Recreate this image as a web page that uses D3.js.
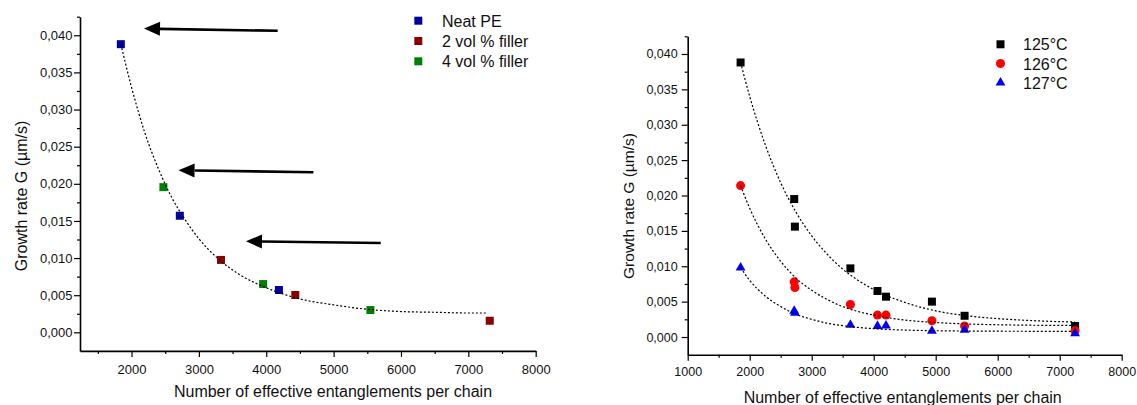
<!DOCTYPE html>
<html><head><meta charset="utf-8">
<script src="https://cdn.jsdelivr.net/npm/d3@7"></script>
<style>
body{margin:0;background:#fff;}
text{font-family:"Liberation Sans",Arial,sans-serif;fill:#111;}
</style></head>
<body><svg id="c" width="1137" height="405"></svg>
<script>
// ---- Left panel data ----
const leftNeatX = [1841, 2717, 4188];
const leftNeatY = [0.0388, 0.0157, 0.0057];
const left2X = [3328, 4431, 7318];
const left2Y = [0.00975, 0.00503, 0.00156];
const left4X = [2473, 3954, 5546];
const left4Y = [0.01955, 0.0065, 0.0030];
const leftFitX = [1841, 2000, 2200, 2400, 2600, 2800, 3000, 3300, 3600, 4000, 4500, 5000, 5500, 6000, 6500, 7000, 7280];
const leftFitY = [0.0388, 0.0330, 0.0268, 0.0220, 0.0181, 0.0151, 0.0126, 0.0098, 0.0078, 0.0060, 0.0045, 0.0037, 0.0031, 0.0028, 0.0027, 0.0026, 0.0026];
const leftLegend = ["Neat PE", "2 vol % filler", "4 vol % filler"];
const arrowTipX = [2185, 2698, 3699];
const arrowTipY = [0.0409, 0.02183, 0.01226];
const arrowTailX = [4170, 4700, 5699];
const arrowTailY = [0.0406, 0.02156, 0.01203];

// ---- Right panel data ----
const rightX = [1853, 2718, 2729, 3624, 4061, 4198, 4939, 5466, 7248];
const r125Y = [0.0388, 0.0195, 0.0156, 0.0097, 0.0065, 0.0057, 0.0050, 0.0030, 0.00155];
const r126Y = [0.0214, 0.0078, 0.0070, 0.0046, 0.0031, 0.0031, 0.0023, 0.00155, 0.00088];
const r127Y = [0.0098, 0.0037, 0.0034, 0.0017, 0.00155, 0.0016, 0.00085, 0.00099, 0.00052];
const rightFitX = [1853, 2000, 2250, 2500, 2750, 3000, 3250, 3500, 3750, 4000, 4500, 5000, 5500, 6000, 6500, 7000, 7248];
const fit125Y = [0.0388, 0.0340, 0.0272, 0.0218, 0.0176, 0.0143, 0.0117, 0.0096, 0.0080, 0.0067, 0.0049, 0.0037, 0.0030, 0.0026, 0.00234, 0.00217, 0.00212];
const fit126Y = [0.0214, 0.0182, 0.0139, 0.0107, 0.0083, 0.0066, 0.0053, 0.0043, 0.0036, 0.0031, 0.0024, 0.00205, 0.00184, 0.00173, 0.00167, 0.00164, 0.00163];
const fit127Y = [0.0098, 0.0080, 0.0058, 0.0043, 0.0032, 0.0025, 0.00195, 0.0016, 0.00135, 0.00118, 0.00098, 0.00089, 0.00084, 0.00082, 0.00081, 0.0008, 0.0008];
const rightLegend = ["125°C", "126°C", "127°C"];

// ---- Ticks ----
const yMajor = [0, 0.005, 0.010, 0.015, 0.020, 0.025, 0.030, 0.035, 0.040];
const yMinor = [0.0025, 0.0075, 0.0125, 0.0175, 0.0225, 0.0275, 0.0325, 0.0375, 0.0425];
const leftXMajor = [2000, 3000, 4000, 5000, 6000, 7000, 8000];
const leftXMinor = [1500, 2500, 3500, 4500, 5500, 6500, 7500];
const rightXMajor = [1000, 2000, 3000, 4000, 5000, 6000, 7000, 8000];
const rightXMinor = [1500, 2500, 3500, 4500, 5500, 6500, 7500];

const svg = d3.select("#c");
const fmt = d3.formatLocale({decimal: ",", thousands: ".", grouping: [3], currency: ["", ""]}).format(".3f");

function drawAxes(g, x, y, xMaj, xMin, yPad, xPad, fs) {
  const ax = g.append("g").attr("transform", `translate(0,${y.range()[0]})`)
    .call(d3.axisBottom(x).tickValues(xMaj).tickSize(6).tickSizeOuter(0).tickPadding(xPad).tickFormat(d3.format("d")));
  g.append("g").attr("transform", `translate(0,${y.range()[0]})`)
    .call(d3.axisBottom(x).tickValues(xMin).tickSize(3).tickSizeOuter(0).tickFormat(""))
    .select(".domain").remove();
  const ay = g.append("g").attr("transform", `translate(${x.range()[0]},0)`)
    .call(d3.axisLeft(y).tickValues(yMajor).tickSize(6).tickSizeOuter(0).tickPadding(yPad).tickFormat(fmt));
  g.append("g").attr("transform", `translate(${x.range()[0]},0)`)
    .call(d3.axisLeft(y).tickValues(yMinor).tickSize(3).tickSizeOuter(0).tickFormat(""))
    .select(".domain").remove();
  g.selectAll(".domain").attr("stroke", "#000").attr("stroke-width", 1.6);
  g.selectAll(".tick line").attr("stroke", "#000").attr("stroke-width", 1.2);
  g.selectAll(".tick text").attr("font-size", fs).attr("fill", "#111")
    .attr("font-family", '"Liberation Sans",Arial,sans-serif');
}

const lineGen = (x, y) => d3.line().x(d => x(d[0])).y(d => y(d[1])).curve(d3.curveMonotoneX);

// ================= LEFT =================
{
  const g = svg.append("g");
  const x = d3.scaleLinear().domain([1235, 8000]).range([80, 535.7]);
  const y = d3.scaleLinear().domain([-0.0025, 0.0425]).range([350.9, 16.7]);
  drawAxes(g, x, y, leftXMajor, leftXMinor, 1.5, 7.5, "13px");

  const series = [
    {xs: leftNeatX, ys: leftNeatY, c: "#0000a0"},
    {xs: left2X, ys: left2Y, c: "#8b0000"},
    {xs: left4X, ys: left4Y, c: "#008000"}
  ];
  const sq = d3.symbol().type(d3.symbolSquare).size(64);
  series.forEach(s => {
    g.append("g").selectAll("path").data(s.xs.map((v, i) => [v, s.ys[i]])).join("path")
      .attr("d", sq).attr("transform", d => `translate(${x(d[0])},${y(d[1])})`)
      .attr("fill", s.c);
  });
  g.append("path").datum(leftFitX.map((v, i) => [v, leftFitY[i]]))
    .attr("d", lineGen(x, y)).attr("fill", "none").attr("stroke", "#000")
    .attr("stroke-width", 1.2).attr("stroke-dasharray", "2,2");

  // arrows
  arrowTipX.forEach((tx, i) => {
    const x1 = x(arrowTailX[i]), y1 = y(arrowTailY[i]);
    const x2 = x(tx), y2 = y(arrowTipY[i]);
    const ang = Math.atan2(y2 - y1, x2 - x1);
    const L = 16, W = 7;
    const bx = x2 - L * Math.cos(ang), by = y2 - L * Math.sin(ang);
    g.append("line").attr("x1", x1).attr("y1", y1).attr("x2", bx).attr("y2", by)
      .attr("stroke", "#000").attr("stroke-width", 2.6);
    const px = -Math.sin(ang) * W, py = Math.cos(ang) * W;
    g.append("path").attr("d", `M${x2},${y2}L${bx + px},${by + py}L${bx - px},${by - py}Z`).attr("fill", "#000");
  });

  // legend
  leftLegend.forEach((t, i) => {
    const ly = 20.7 + i * 20.3;
    g.append("path").attr("d", sq).attr("transform", `translate(418.3,${ly})`).attr("fill", series[i].c);
    g.append("text").attr("x", 442).attr("y", ly + 6).attr("font-size", "16px").text(t);
  });

  g.append("text").attr("x", 333).attr("y", 397).attr("text-anchor", "middle").attr("font-size", "16px")
    .text("Number of effective entanglements per chain");
  g.append("text").attr("transform", "translate(27,196) rotate(-90)").attr("text-anchor", "middle").attr("font-size", "16px")
    .text("Growth rate G (µm/s)");
}

// ================= RIGHT =================
{
  const g = svg.append("g");
  const x = d3.scaleLinear().domain([1000, 8000]).range([687.7, 1121.7]);
  const y = d3.scaleLinear().domain([-0.0025, 0.0425]).range([354.7, 36.3]);
  drawAxes(g, x, y, rightXMajor, rightXMinor, 4, 6, "12.5px");

  const defs = [
    {ys: r125Y, fit: fit125Y, c: "#000000", sym: d3.symbol().type(d3.symbolSquare).size(64)},
    {ys: r126Y, fit: fit126Y, c: "#ff0000", sym: d3.symbol().type(d3.symbolCircle).size(64)},
    {ys: r127Y, fit: fit127Y, c: "#0000ff", sym: d3.symbol().type(d3.symbolTriangle).size(42)}
  ];
  defs.forEach(s => {
    g.append("g").selectAll("path").data(rightX.map((v, i) => [v, s.ys[i]])).join("path")
      .attr("d", s.sym).attr("transform", d => `translate(${x(d[0])},${y(d[1])})`)
      .attr("fill", s.c);
  });
  defs.forEach(s => {
    g.append("path").datum(rightFitX.map((v, i) => [v, s.fit[i]]))
      .attr("d", lineGen(x, y)).attr("fill", "none").attr("stroke", "#000")
      .attr("stroke-width", 1.2).attr("stroke-dasharray", "2,2");
  });

  rightLegend.forEach((t, i) => {
    const ly = 44.3 + i * 19.2;
    g.append("path").attr("d", defs[i].sym).attr("transform", `translate(1000.5,${ly})`).attr("fill", defs[i].c);
    g.append("text").attr("x", 1023).attr("y", ly + 6).attr("font-size", "16px").text(t);
  });

  g.append("text").attr("x", 902.7).attr("y", 403).attr("text-anchor", "middle").attr("font-size", "16px")
    .text("Number of effective entanglements per chain");
  g.append("text").attr("transform", "translate(634,206) rotate(-90)").attr("text-anchor", "middle").attr("font-size", "15.5px")
    .text("Growth rate G (µm/s)");
}
</script></body></html>
